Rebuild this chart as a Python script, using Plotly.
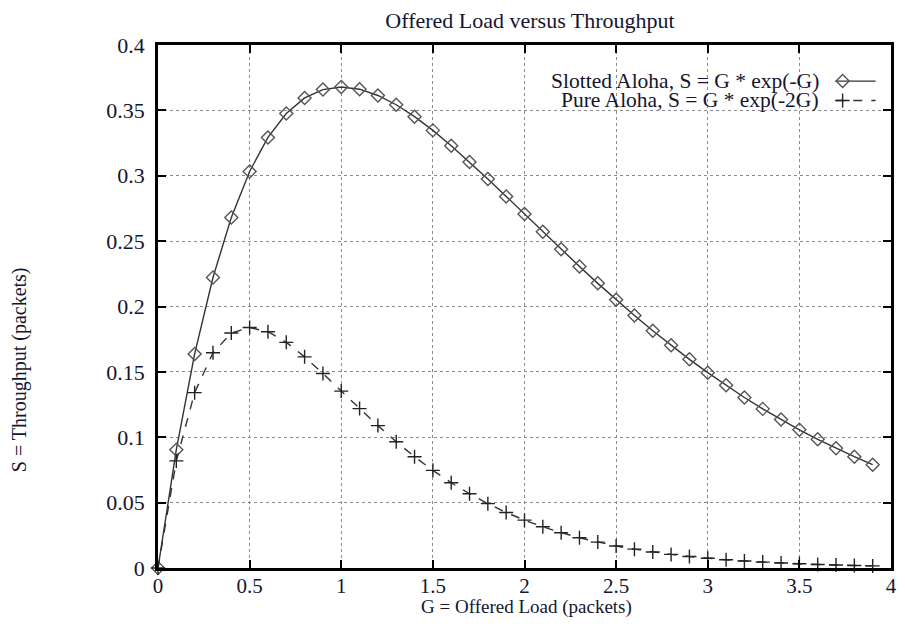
import plotly.graph_objects as go

G = [0.0, 0.1, 0.2, 0.3, 0.4, 0.5, 0.6, 0.7, 0.8, 0.9,
     1.0, 1.1, 1.2, 1.3, 1.4, 1.5, 1.6, 1.7, 1.8, 1.9,
     2.0, 2.1, 2.2, 2.3, 2.4, 2.5, 2.6, 2.7, 2.8, 2.9,
     3.0, 3.1, 3.2, 3.3, 3.4, 3.5, 3.6, 3.7, 3.8, 3.9]

slotted = [0.0, 0.0905, 0.1637, 0.2222, 0.2681, 0.3033, 0.3293, 0.3476, 0.3595, 0.3659,
           0.3679, 0.3662, 0.3614, 0.3543, 0.3452, 0.3347, 0.3230, 0.3106, 0.2975, 0.2842,
           0.2707, 0.2572, 0.2438, 0.2306, 0.2177, 0.2052, 0.1931, 0.1815, 0.1703, 0.1596,
           0.1494, 0.1397, 0.1304, 0.1217, 0.1135, 0.1057, 0.0984, 0.0915, 0.0851, 0.0790]

pure = [0.0, 0.0819, 0.1341, 0.1646, 0.1797, 0.1839, 0.1807, 0.1726, 0.1615, 0.1488,
        0.1353, 0.1219, 0.1089, 0.0966, 0.0851, 0.0747, 0.0652, 0.0568, 0.0492, 0.0425,
        0.0366, 0.0315, 0.0270, 0.0231, 0.0198, 0.0168, 0.0144, 0.0122, 0.0104, 0.0088,
        0.0074, 0.0063, 0.0053, 0.0045, 0.0038, 0.0032, 0.0027, 0.0023, 0.0019, 0.0016]

x_ticks = [0, 0.5, 1, 1.5, 2, 2.5, 3, 3.5, 4]
x_tick_labels = ["0", "0.5", "1", "1.5", "2", "2.5", "3", "3.5", "4"]
y_ticks = [0, 0.05, 0.1, 0.15, 0.2, 0.25, 0.3, 0.35, 0.4]
y_tick_labels = ["0", "0.05", "0.1", "0.15", "0.2", "0.25", "0.3", "0.35", "0.4"]

legend_names = ["Slotted Aloha, S = G * exp(-G)", "Pure Aloha, S = G * exp(-2G)"]

FONT = "Liberation Serif, Times New Roman, serif"
TEXT = "#151530"
LINE_COLOR = "#333333"

fig = go.Figure()

fig.add_trace(go.Scatter(
    x=G, y=slotted, mode="lines+markers", name=legend_names[0],
    line=dict(color=LINE_COLOR, width=1.4),
    marker=dict(symbol="diamond-open", size=10, color="#555555", line=dict(width=1.4)),
    showlegend=False, cliponaxis=False))

fig.add_trace(go.Scatter(
    x=G, y=pure, mode="lines+markers", name=legend_names[1],
    line=dict(color=LINE_COLOR, width=1.4, dash="dash"),
    marker=dict(symbol="cross-thin-open", size=10, color="#222222", line=dict(width=1.4, color="#222222")),
    showlegend=False, cliponaxis=False))

# legend samples (on an overlay axis in 0..1 units)
leg_y = [0.931, 0.894]
fig.add_trace(go.Scatter(x=[0.924, 0.979], y=[leg_y[0], leg_y[0]], mode="lines",
                         line=dict(color=LINE_COLOR, width=1.4), xaxis="x2", yaxis="y2",
                         showlegend=False, hoverinfo="skip"))
fig.add_trace(go.Scatter(x=[0.934], y=[leg_y[0]], mode="markers",
                         marker=dict(symbol="diamond-open", size=10, color="#555555", line=dict(width=1.4)),
                         xaxis="x2", yaxis="y2", showlegend=False, hoverinfo="skip"))
fig.add_trace(go.Scatter(x=[0.924, 0.979], y=[leg_y[1], leg_y[1]], mode="lines",
                         line=dict(color=LINE_COLOR, width=1.4, dash="dash"), xaxis="x2", yaxis="y2",
                         showlegend=False, hoverinfo="skip"))
fig.add_trace(go.Scatter(x=[0.934], y=[leg_y[1]], mode="markers",
                         marker=dict(symbol="cross-thin-open", size=10, color="#222222",
                                     line=dict(width=1.4, color="#222222")),
                         xaxis="x2", yaxis="y2", showlegend=False, hoverinfo="skip"))

for name, yy in zip(legend_names, leg_y):
    fig.add_annotation(x=0.905, y=yy, xref="x2", yref="y2", text=name, showarrow=False,
                       xanchor="right", yanchor="middle",
                       font=dict(family=FONT, size=21.5, color=TEXT))

# axis titles
fig.add_annotation(x=0.503, y=-0.075, xref="paper", yref="paper",
                   text="G = Offered Load (packets)", showarrow=False,
                   xanchor="center", yanchor="middle",
                   font=dict(family=FONT, size=19, color=TEXT))
fig.add_annotation(x=-0.189, y=0.379, xref="paper", yref="paper",
                   text="S = Throughput (packets)", showarrow=False, textangle=-90,
                   xanchor="center", yanchor="middle",
                   font=dict(family=FONT, size=20, color=TEXT))

axis_common = dict(
    showline=True, linecolor="black", linewidth=2.5, mirror="ticks",
    ticks="inside", ticklen=8, tickwidth=1.5, tickcolor="black",
    showgrid=True, gridcolor="#8a8a8a", griddash="dot", gridwidth=1,
    zeroline=False, automargin=False, ticklabeloverflow="allow",
)

fig.update_layout(
    width=889, height=610,
    paper_bgcolor="white", plot_bgcolor="white",
    margin=dict(l=150, r=6, t=37, b=50),
    title=dict(text="Offered Load versus Throughput", x=0.5872, xanchor="center",
               y=0.9803, yanchor="middle", automargin=False,
               font=dict(family=FONT, size=22, color=TEXT)),
    xaxis=dict(range=[0, 4], tickvals=x_ticks, ticktext=x_tick_labels,
               ticklabelstandoff=-3, tickfont=dict(family=FONT, size=21, color=TEXT),
               **axis_common),
    yaxis=dict(range=[0, 0.4], tickvals=y_ticks, ticktext=y_tick_labels,
               ticklabelstandoff=6, tickfont=dict(family=FONT, size=22, color=TEXT),
               **axis_common),
    xaxis2=dict(range=[0, 1], overlaying="x", visible=False),
    yaxis2=dict(range=[0, 1], overlaying="y", visible=False),
    showlegend=False,
)

fig.write_html("out.html")
